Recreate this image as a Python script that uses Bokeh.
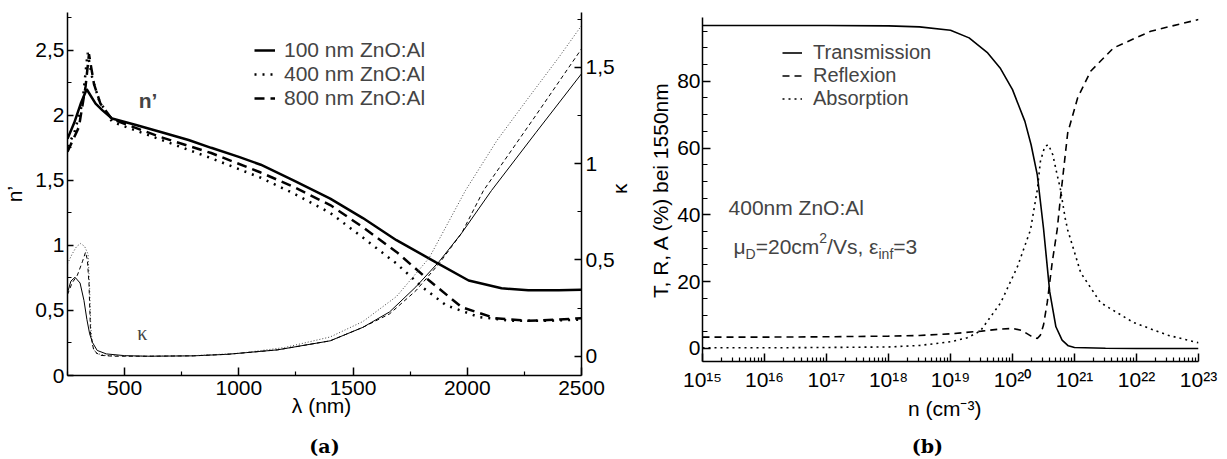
import math
import numpy as np
from bokeh.plotting import figure
from bokeh.layouts import row, column
from bokeh.models import (Range1d, LinearAxis, LogAxis, FixedTicker, CustomJSTickFormatter,
                          Legend, LegendItem, Label)
from bokeh.embed import file_html
from bokeh.resources import INLINE

# ---------------- panel (a): n' and kappa vs wavelength ----------------
lam_n100 = [250, 279, 308, 334, 373, 402, 445, 550, 662, 780, 879, 1000, 1096, 1239,
            1400, 1543, 1690, 1863, 2006, 2150, 2267, 2400, 2500]
n_100 = [1.82, 1.94, 2.09, 2.20, 2.09, 2.04, 1.975, 1.925, 1.87, 1.81, 1.75, 1.68, 1.62, 1.50,
         1.36, 1.21, 1.04, 0.87, 0.73, 0.67, 0.655, 0.655, 0.66]

lam_n400 = [250, 279, 315, 338, 358, 387, 445, 662, 879, 1096, 1239, 1400, 1543, 1690,
            1803, 1907, 2050, 2193, 2350, 2500]
n_400 = [1.76, 1.86, 2.09, 2.48, 2.29, 2.12, 1.95, 1.81, 1.67, 1.52, 1.40, 1.25, 1.06, 0.86,
         0.68, 0.54, 0.45, 0.42, 0.42, 0.43]

lam_n800 = [250, 300, 329, 344, 366, 394, 445, 662, 879, 1096, 1239, 1400, 1543, 1690,
            1833, 1976, 2123, 2267, 2400, 2500]
n_800 = [1.72, 1.91, 2.22, 2.47, 2.24, 2.09, 1.97, 1.83, 1.71, 1.56, 1.45, 1.31, 1.14, 0.95,
         0.73, 0.525, 0.44, 0.42, 0.43, 0.44]

lam_k100 = [250, 265, 283, 305, 322, 335, 347, 360, 380, 420, 500, 600, 800, 950, 1169,
            1400, 1543, 1660, 1775, 1876, 1976, 2106, 2300, 2500]
k_100 = [0.33, 0.39, 0.41, 0.38, 0.29, 0.19, 0.116, 0.07, 0.03, 0.012, 0.003, 0.0, 0.002, 0.01,
         0.033, 0.08, 0.15, 0.23, 0.36, 0.49, 0.64, 0.86, 1.16, 1.466]

lam_k400 = [250, 270, 290, 308, 325, 340, 347, 352, 360, 375, 420, 600, 800, 1000, 1200,
            1400, 1543, 1690, 1833, 1992, 2130, 2267, 2400, 2500]
k_400 = [0.48, 0.53, 0.57, 0.585, 0.57, 0.53, 0.35, 0.15, 0.05, 0.015, 0.004, 0.0, 0.003, 0.015,
         0.045, 0.10, 0.18, 0.31, 0.51, 0.86, 1.12, 1.34, 1.55, 1.716]

lam_k800 = [250, 270, 293, 315, 329, 337, 344, 351, 365, 390, 450, 600, 800, 950, 1169,
            1400, 1543, 1660, 1775, 1876, 1976, 2071, 2300, 2500]
k_800 = [0.32, 0.38, 0.42, 0.49, 0.54, 0.50, 0.376, 0.116, 0.03, 0.005, 0.0, 0.0, 0.002, 0.01,
         0.033, 0.08, 0.15, 0.22, 0.34, 0.48, 0.64, 0.86, 1.25, 1.595]

legend_a = ["100 nm ZnO:Al", "400 nm ZnO:Al", "800 nm ZnO:Al"]
x_ticks_a = [500, 1000, 1500, 2000, 2500]
x_minor_a = [250, 750, 1250, 1750, 2250]
y_ticks_a = [0, 0.5, 1, 1.5, 2, 2.5]
y_minor_a = [0.25, 0.75, 1.25, 1.75, 2.25, 2.75]
k_ticks_a = [0, 0.5, 1, 1.5]
k_minor_a = [0.25, 0.75, 1.25, 1.75]

# ---------------- panel (b): T, R, A vs carrier density ----------------
exp_T = [15, 16, 17, 18, 18.5, 19, 19.3, 19.6, 19.8, 20.0, 20.2, 20.3, 20.4, 20.5, 20.6,
         20.7, 20.8, 20.9, 21.0, 21.5, 22, 23]
T_val = [96.7, 96.7, 96.7, 96.6, 96.3, 95.3, 93.0, 88.5, 84.0, 77.5, 68.0, 61.0, 52.0, 36.0,
         17.0, 6.5, 2.5, 0.8, 0.3, 0.05, 0.0, 0.0]

exp_R = [15, 16, 17, 18, 18.5, 19, 19.5, 19.8, 20.0, 20.15, 20.3, 20.4, 20.45, 20.5, 20.56,
         20.64, 20.72, 20.77, 20.89, 21.05, 21.26, 21.63, 22.23, 23]
R_val = [3.4, 3.4, 3.5, 3.7, 3.9, 4.4, 5.2, 5.8, 6.0, 5.4, 3.7, 3.0, 4.0, 7.0, 13.7,
         25.7, 35.5, 44.5, 64.5, 75.0, 83.0, 90.0, 95.0, 98.5]

exp_A = [15, 16, 17, 18, 18.5, 19, 19.27, 19.48, 19.81, 20.08, 20.29, 20.40, 20.45, 20.52,
         20.58, 20.65, 20.72, 20.77, 20.85, 20.89, 21.10, 21.42, 21.95, 22.5, 23]
A_val = [0.2, 0.2, 0.3, 0.45, 0.9, 2.0, 3.2, 5.2, 13.7, 24.5, 35.5, 47.5, 56.0, 60.5,
         61.0, 58.0, 52.0, 48.0, 39.0, 35.5, 22.7, 13.7, 7.8, 4.0, 1.7]

legend_b = ["Transmission", "Reflexion", "Absorption"]
x_exp_ticks_b = list(range(15, 24))
y_ticks_b = [0, 20, 40, 60, 80]
y_minor_b = [v for v in range(5, 100, 5) if v % 20 != 0]

FONT = "Liberation Sans"
FS = "21px"


def style_axis(ax, major_in, minor_in):
    ax.axis_line_color = "black"
    ax.axis_line_width = 1.5
    ax.major_tick_in = major_in
    ax.major_tick_out = 0
    ax.minor_tick_in = minor_in
    ax.minor_tick_out = 0
    ax.major_tick_line_color = "black"
    ax.minor_tick_line_color = "black"
    ax.major_tick_line_width = 1.5
    ax.minor_tick_line_width = 1.2
    ax.major_label_text_font = FONT
    ax.major_label_text_font_size = FS
    ax.major_label_text_color = "black"
    ax.axis_label_text_font = FONT
    ax.axis_label_text_font_size = FS
    ax.axis_label_text_font_style = "normal"
    ax.axis_label_text_color = "black"


def caption_axis(text, standoff, log=False):
    cls = LogAxis if log else LinearAxis
    ax = cls(ticker=FixedTicker(ticks=[]), axis_label=text)
    ax.axis_line_color = None
    ax.major_tick_in = 0
    ax.major_tick_out = 0
    ax.minor_tick_in = 0
    ax.minor_tick_out = 0
    ax.major_label_standoff = 0
    ax.axis_label_standoff = standoff
    ax.axis_label_text_font = "DejaVu Serif"
    ax.axis_label_text_font_style = "bold"
    ax.axis_label_text_font_size = "19px"
    ax.axis_label_text_color = "black"
    return ax


comma_fmt = CustomJSTickFormatter(code="return tick.toString().replace('.', ',');")

# ---------- figure (a) ----------
p1 = figure(width=645, height=459, output_backend="svg", toolbar_location=None, title=None,
            x_range=Range1d(250, 2500), y_range=Range1d(0, 2.79),
            min_border_left=65, min_border_right=61, min_border_top=12, min_border_bottom=84)
p1.extra_y_ranges = {"kappa": Range1d(-0.1, 1.784)}
p1.outline_line_color = None
p1.xgrid.visible = False
p1.ygrid.visible = False
p1.background_fill_color = "white"
p1.border_fill_color = "white"

xa = p1.xaxis[0]
xa.ticker = FixedTicker(ticks=x_ticks_a, minor_ticks=x_minor_a)
xa.axis_label = "λ  (nm)"
style_axis(xa, 8, 4)
xa.major_label_standoff = 5
xa.axis_label_standoff = -4

ya = p1.yaxis[0]
ya.ticker = FixedTicker(ticks=y_ticks_a, minor_ticks=y_minor_a)
ya.formatter = comma_fmt
ya.axis_label = "n’"
style_axis(ya, 6, 4)
ya.major_label_standoff = 3
ya.axis_label_standoff = 6

ka = LinearAxis(y_range_name="kappa")
ka.ticker = FixedTicker(ticks=k_ticks_a, minor_ticks=k_minor_a)
ka.formatter = comma_fmt
ka.axis_label = "κ"
style_axis(ka, 7, 4)
ka.major_label_standoff = 4
ka.axis_label_standoff = 2
ka.axis_label_orientation = math.pi / 2
p1.add_layout(ka, "right")
p1.add_layout(caption_axis("(a)", 15), "below")

r100 = p1.line(lam_n100, n_100, line_color="black", line_width=2.5)
r400 = p1.line(lam_n400, n_400, line_color="black", line_width=2.5, line_dash="2 6")
r800 = p1.line(lam_n800, n_800, line_color="black", line_width=2.5, line_dash="10 6")

p1.line(lam_k100, k_100, line_color="black", line_width=1, y_range_name="kappa")
p1.line(lam_k400, k_400, line_color="#444444", line_width=1, line_dash="1 2", y_range_name="kappa")
p1.line(lam_k800, k_800, line_color="black", line_width=1, line_dash="4 3", y_range_name="kappa")

leg1 = Legend(items=[LegendItem(label=legend_a[0], renderers=[r100]),
                     LegendItem(label=legend_a[1], renderers=[r400]),
                     LegendItem(label=legend_a[2], renderers=[r800])],
              location=(187, 265), padding=0, margin=0, spacing=-2,
              label_height=22, glyph_height=22, glyph_width=21, label_standoff=9,
              label_text_font=FONT, label_text_font_size=FS,
              border_line_color=None, background_fill_alpha=0)
p1.add_layout(leg1)

p1.add_layout(Label(x=562, y=2.115, text="n’", text_font=FONT, text_font_style="bold",
                    text_font_size=FS, text_baseline="middle", text_align="left"))
p1.add_layout(Label(x=555, y=0.323, text="κ", text_font="Liberation Serif",
                    text_font_size="20px", text_baseline="middle", text_align="left"))

# ---------- figure (b) ----------
n_T = [10 ** e for e in exp_T]
n_R = [10 ** e for e in exp_R]
n_A = [10 ** e for e in exp_A]

p2 = figure(width=582, height=459, output_backend="svg", toolbar_location=None, title=None,
            x_axis_type="log", x_range=Range1d(1e15, 1e23), y_range=Range1d(-3.9, 99.1),
            min_border_left=57, min_border_right=29, min_border_top=17, min_border_bottom=97)
p2.outline_line_color = None
p2.xgrid.visible = False
p2.ygrid.visible = False
p2.background_fill_color = "white"
p2.border_fill_color = "white"

xb = p2.xaxis[0]
xb.ticker = FixedTicker(ticks=[10 ** e for e in x_exp_ticks_b],
                        minor_ticks=[k * 10 ** e for e in x_exp_ticks_b[:-1] for k in range(2, 10)])
xb.formatter = CustomJSTickFormatter(code="""
const sup = {"0":"\\u2070","1":"\\u00b9","2":"\\u00b2","3":"\\u00b3","4":"\\u2074",
             "5":"\\u2075","6":"\\u2076","7":"\\u2077","8":"\\u2078","9":"\\u2079","-":"\\u207b"};
const e = Math.round(Math.log10(tick));
return "10" + String(e).split("").map(c => sup[c]).join("");
""")
xb.axis_label = "n   (cm⁻³)"
style_axis(xb, 8, 4)
xb.major_label_standoff = 6
xb.axis_label_standoff = 3

yb = p2.yaxis[0]
yb.ticker = FixedTicker(ticks=y_ticks_b, minor_ticks=y_minor_b)
yb.axis_label = "T, R, A (%) bei 1550nm"
style_axis(yb, 8, 5)
yb.major_label_standoff = 2
yb.axis_label_standoff = 2
p2.add_layout(caption_axis("(b)" + "\u00a0" * 7, 12, log=True), "below")

rT = p2.line(n_T, T_val, line_color="black", line_width=1.6)
rR = p2.line(n_R, R_val, line_color="black", line_width=1.6, line_dash="7 5")
rA = p2.line(n_A, A_val, line_color="black", line_width=1.6, line_dash="2 4")

leg2 = Legend(items=[LegendItem(label=legend_b[0], renderers=[rT]),
                     LegendItem(label=legend_b[1], renderers=[rR]),
                     LegendItem(label=legend_b[2], renderers=[rA])],
              location=(80, 251), padding=0, margin=0, spacing=-2,
              label_height=21, glyph_height=21, glyph_width=20, label_standoff=11,
              label_text_font=FONT, label_text_font_size="20px",
              border_line_color=None, background_fill_alpha=0)
p2.add_layout(leg2)

p2.add_layout(Label(x=10 ** 15.42, y=42.1, text="400nm ZnO:Al", text_font=FONT,
                    text_font_size=FS, text_baseline="middle", text_align="left"))

ann_x = 10 ** 15.5
ann_y = 30.4
pieces = [("μ", 0, 0, FS), ("D", 12.1, -7, "14px"), ("=20cm", 22.2, 0, FS), ("2", 85.8, 9, "14px"),
          ("/Vs, ε", 93.6, 0, FS), ("inf", 145.0, -7, "14px"), ("=3", 159.8, 0, FS)]
for txt, xo, yo, fs in pieces:
    p2.add_layout(Label(x=ann_x, y=ann_y, x_offset=xo, y_offset=yo, text=txt, text_font=FONT,
                        text_font_size=fs, text_baseline="middle", text_align="left"))

layout = row(column(p1), column(p2))
with open("out.html", "w", encoding="utf-8") as f:
    f.write(file_html(layout, INLINE))
